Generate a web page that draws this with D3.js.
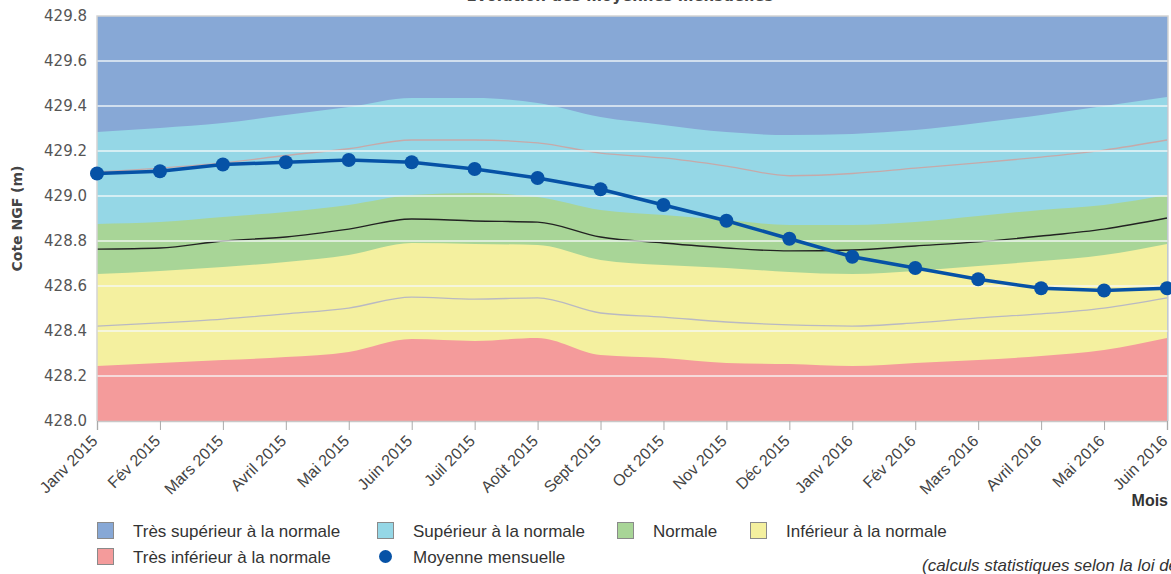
<!DOCTYPE html>
<html>
<head>
<meta charset="utf-8">
<script src="https://cdn.jsdelivr.net/npm/d3@7"></script>
<style>
  body { margin: 0; background: #fff; }
  svg { display: block; }
</style>
</head>
<body>
<div id="chart"></div>
<script>
// mois et valeurs
var months = ["Janv 2015", "Fév 2015", "Mars 2015", "Avril 2015", "Mai 2015", "Juin 2015",
  "Juil 2015", "Août 2015", "Sept 2015", "Oct 2015", "Nov 2015", "Déc 2015",
  "Janv 2016", "Fév 2016", "Mars 2016", "Avril 2016", "Mai 2016", "Juin 2016"];

// limites des classes (m NGF)
var tresInfMax = [428.244, 428.258, 428.271, 428.284, 428.307, 428.364, 428.356, 428.369, 428.293,
  428.280, 428.258, 428.253, 428.244, 428.258, 428.271, 428.289, 428.316, 428.369];
var infMax = [428.653, 428.667, 428.684, 428.707, 428.738, 428.791, 428.787, 428.782, 428.716,
  428.693, 428.680, 428.662, 428.653, 428.667, 428.689, 428.711, 428.738, 428.787];
var normaleMax = [428.876, 428.884, 428.907, 428.929, 428.960, 429.004, 429.013, 428.996, 428.938,
  428.916, 428.893, 428.871, 428.871, 428.884, 428.911, 428.938, 428.960, 429.004];
var supMax = [429.284, 429.302, 429.324, 429.360, 429.396, 429.436, 429.436, 429.413, 429.351,
  429.316, 429.284, 429.271, 429.276, 429.293, 429.324, 429.360, 429.400, 429.440];

// lignes fines : sec, médiane, humide
var ligneSeche = [428.422, 428.436, 428.453, 428.476, 428.502, 428.551, 428.542, 428.547, 428.480,
  428.462, 428.440, 428.427, 428.422, 428.436, 428.458, 428.476, 428.502, 428.547];
var mediane = [428.764, 428.769, 428.800, 428.818, 428.853, 428.898, 428.889, 428.884, 428.818,
  428.791, 428.769, 428.756, 428.760, 428.778, 428.796, 428.822, 428.853, 428.902];
var ligneHumide = [429.107, 429.124, 429.147, 429.180, 429.210, 429.249, 429.249, 429.236, 429.191,
  429.169, 429.133, 429.090, 429.100, 429.124, 429.147, 429.173, 429.204, 429.249];

// moyenne mensuelle
var moyenne = [429.10, 429.11, 429.14, 429.15, 429.16, 429.15, 429.12, 429.08, 429.03,
  428.96, 428.89, 428.81, 428.73, 428.68, 428.63, 428.59, 428.58, 428.59];

var yTicks = [428.0, 428.2, 428.4, 428.6, 428.8, 429.0, 429.2, 429.4, 429.6, 429.8];

var width = 1171, height = 574;
var mLeft = 97, mRight = 1167, mTop = 16, mBottom = 421;

var svg = d3.select("#chart").append("svg")
  .attr("width", width)
  .attr("height", height);

var x = d3.scalePoint().domain(months).range([mLeft, mRight]);
var y = d3.scaleLinear().domain([428, 429.8]).range([mBottom, mTop]);

svg.append("defs").append("clipPath").attr("id", "plot")
  .append("rect").attr("x", mLeft).attr("y", mTop)
  .attr("width", mRight - mLeft + 1).attr("height", mBottom - mTop);

var plot = svg.append("g").attr("clip-path", "url(#plot)");

// fond : très supérieur
plot.append("rect")
  .attr("x", mLeft).attr("y", mTop)
  .attr("width", mRight - mLeft + 1).attr("height", mBottom - mTop)
  .attr("fill", "#87a8d6");

var bands = [
  { vals: supMax, color: "#95d7e6" },
  { vals: normaleMax, color: "#a8d597" },
  { vals: infMax, color: "#f4f09f" },
  { vals: tresInfMax, color: "#f49b9b" }
];

bands.forEach(function(b) {
  var area = d3.area()
    .x(function(d, i) { return x(months[i]); })
    .y0(y(428))
    .y1(function(d) { return y(d); })
    .curve(d3.curveMonotoneX);
  plot.append("path").datum(b.vals)
    .attr("d", area)
    .attr("fill", b.color);
});

var smooth = d3.line()
  .x(function(d, i) { return x(months[i]); })
  .y(function(d) { return y(d); })
  .curve(d3.curveMonotoneX);

plot.append("path").datum(ligneSeche).attr("d", smooth)
  .attr("fill", "none").attr("stroke", "#b9b9c2").attr("stroke-width", 1.3);
plot.append("path").datum(ligneHumide).attr("d", smooth)
  .attr("fill", "none").attr("stroke", "#c6a9a9").attr("stroke-width", 1.3);
plot.append("path").datum(mediane).attr("d", smooth)
  .attr("fill", "none").attr("stroke", "#222").attr("stroke-width", 1.4);

// grille
plot.selectAll(".grid").data(yTicks.slice(1, -1)).enter()
  .append("line")
  .attr("x1", mLeft).attr("x2", mRight + 1)
  .attr("y1", function(d) { return y(d); })
  .attr("y2", function(d) { return y(d); })
  .attr("stroke", "#f4f9f9").attr("stroke-opacity", 0.9).attr("stroke-width", 1.6);

// bordure
svg.append("path")
  .attr("d", "M" + mLeft + "," + mBottom + "V" + mTop + "H" + (mRight + 1) + "V" + mBottom)
  .attr("fill", "none").attr("stroke", "#d4d4d4").attr("stroke-width", 1.5);

// moyenne mensuelle
var line = d3.line()
  .x(function(d, i) { return x(months[i]); })
  .y(function(d) { return y(d); });

svg.append("path").datum(moyenne).attr("d", line)
  .attr("fill", "none").attr("stroke", "#0652a6").attr("stroke-width", 3.5);

svg.selectAll(".pt").data(moyenne).enter()
  .append("circle")
  .attr("cx", function(d, i) { return x(months[i]); })
  .attr("cy", function(d) { return y(d); })
  .attr("r", 7)
  .attr("fill", "#0652a6");

// axes
var yAxis = svg.append("g")
  .attr("transform", "translate(" + mLeft + ",0)")
  .call(d3.axisLeft(y).tickValues(yTicks).tickFormat(d3.format(".1f")).tickSize(0).tickPadding(10));
yAxis.select(".domain").remove();
yAxis.selectAll("text")
  .attr("font-family", "DejaVu Sans").attr("font-size", 15).attr("fill", "#555");

var xAxis = svg.append("g")
  .attr("transform", "translate(0," + mBottom + ")")
  .call(d3.axisBottom(x).tickSize(9));
xAxis.select(".domain").attr("stroke", "#c8c8c8").attr("stroke-width", 1.5);
xAxis.selectAll(".tick line").attr("stroke", "#aaa");
xAxis.selectAll("text")
  .attr("font-family", "Liberation Sans, Arial").attr("font-size", 16).attr("fill", "#444")
  .attr("text-anchor", "end")
  .attr("x", 0).attr("y", 0)
  .attr("dy", "0.35em")
  .attr("transform", "translate(-3,17) rotate(-45)");

svg.append("text")
  .attr("transform", "translate(22," + ((mTop + mBottom) / 2) + ") rotate(-90)")
  .attr("text-anchor", "middle")
  .attr("font-family", "DejaVu Sans").attr("font-weight", "bold")
  .attr("font-size", 14).attr("fill", "#444")
  .text("Cote NGF (m)");

svg.append("text")
  .attr("x", mRight + 1).attr("y", 506)
  .attr("text-anchor", "end")
  .attr("font-family", "Liberation Sans, Arial").attr("font-weight", "bold")
  .attr("font-size", 16).attr("fill", "#333")
  .text("Mois");

svg.append("text")
  .attr("x", 620).attr("y", 1)
  .attr("text-anchor", "middle")
  .attr("font-family", "DejaVu Sans").attr("font-weight", "bold")
  .attr("font-size", 15).attr("fill", "#444")
  .text("Evolution des moyennes mensuelles");

// légende
var legend = [
  { label: "Très supérieur à la normale", color: "#87a8d6", x: 97, row: 0 },
  { label: "Supérieur à la normale", color: "#95d7e6", x: 377, row: 0 },
  { label: "Normale", color: "#a8d597", x: 617, row: 0 },
  { label: "Inférieur à la normale", color: "#f4f09f", x: 750, row: 0 },
  { label: "Très inférieur à la normale", color: "#f49b9b", x: 97, row: 1 },
  { label: "Moyenne mensuelle", color: "#0652a6", x: 377, row: 1, dot: true }
];

var lg = svg.selectAll(".leg").data(legend).enter().append("g")
  .attr("transform", function(d) { return "translate(" + d.x + "," + (522 + d.row * 26) + ")"; });

lg.filter(function(d) { return !d.dot; }).append("rect")
  .attr("x", 0.5).attr("y", 0.5).attr("width", 16).attr("height", 16)
  .attr("fill", function(d) { return d.color; })
  .attr("stroke", "#8a8a8a").attr("stroke-width", 1);

lg.filter(function(d) { return d.dot; }).append("circle")
  .attr("cx", 8.5).attr("cy", 8.5).attr("r", 6.5)
  .attr("fill", function(d) { return d.color; });

lg.append("text")
  .attr("x", 36).attr("y", 15)
  .attr("font-family", "Liberation Sans, Arial").attr("font-size", 17).attr("fill", "#333")
  .text(function(d) { return d.label; });

svg.append("text")
  .attr("x", 922).attr("y", 571)
  .attr("font-family", "Liberation Sans, Arial").attr("font-style", "italic")
  .attr("font-size", 17).attr("fill", "#333")
  .text("(calculs statistiques selon la loi de Gauss)");
</script>
</body>
</html>
